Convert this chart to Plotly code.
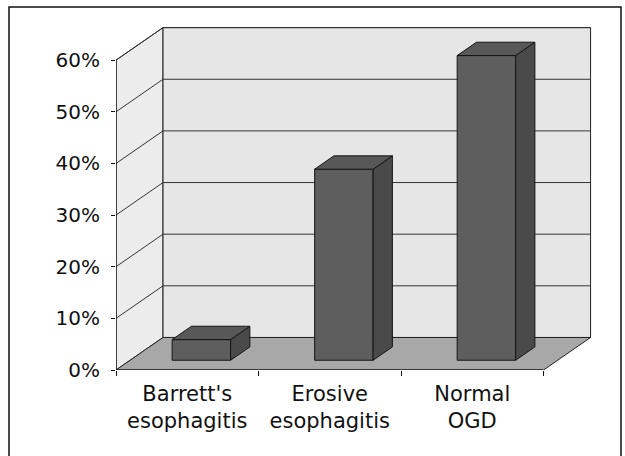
import plotly.graph_objects as go

# ---- data ----
categories = ["Barrett's<br>esophagitis", "Erosive<br>esophagitis", "Normal<br>OGD"]
values = [4, 37, 59]                     # percent
y_ticks = [0, 10, 20, 30, 40, 50, 60]
y_tick_labels = ["0%", "10%", "20%", "30%", "40%", "50%", "60%"]

# ---- 3D projection settings (in axis units) ----
DX = 0.33      # depth offset along x (category units)
DY = 6.3       # depth offset along y (percent units)
F0, F1 = 0.30, 0.71   # bar depth placement (fraction of depth)
HW = 0.205     # half bar width
YMAX = max(y_ticks)
XL, XR = -0.5, len(categories) - 0.5

WALL = "#e6e6e6"
SIDE_WALL = "#ececec"
FLOOR = "#a8a8a8"
EDGE = "#222222"
FRONT = "#5e5e5e"
TOP = "#585858"
SIDE = "#4a4a4a"

fig = go.Figure()
shapes = []

def path(pts):
    return "M " + " L ".join(f"{x},{y}" for x, y in pts) + " Z"

# left side wall
shapes.append(dict(type="path", xref="x", yref="y", layer="below",
                   path=path([(XL, 0), (XL, YMAX), (XL + DX, YMAX + DY), (XL + DX, DY)]),
                   fillcolor=SIDE_WALL, line=dict(color=EDGE, width=1)))
# back wall
shapes.append(dict(type="path", xref="x", yref="y", layer="below",
                   path=path([(XL + DX, DY), (XL + DX, YMAX + DY), (XR + DX, YMAX + DY), (XR + DX, DY)]),
                   fillcolor=WALL, line=dict(color=EDGE, width=1)))
# floor
shapes.append(dict(type="path", xref="x", yref="y", layer="below",
                   path=path([(XL, 0), (XR, 0), (XR + DX, DY), (XL + DX, DY)]),
                   fillcolor=FLOOR, line=dict(color=EDGE, width=1)))
# gridlines
for v in y_ticks[1:]:
    shapes.append(dict(type="line", xref="x", yref="y", layer="below",
                       x0=XL, y0=v, x1=XL + DX, y1=v + DY, line=dict(color="#333333", width=1)))
    shapes.append(dict(type="line", xref="x", yref="y", layer="below",
                       x0=XL + DX, y0=v + DY, x1=XR + DX, y1=v + DY, line=dict(color="#333333", width=1)))
# front axes lines
shapes.append(dict(type="line", xref="x", yref="y", x0=XL, y0=0, x1=XL, y1=YMAX,
                   line=dict(color="#111111", width=1.2)))
shapes.append(dict(type="line", xref="x", yref="y", x0=XL, y0=0, x1=XR, y1=0,
                   line=dict(color="#111111", width=1.2)))

# chart border (decoration)
l, r, t, b = 116, 33, 24, 86
W, H = 625 - l - r, 456 - t - b
shapes.append(dict(type="rect", xref="paper", yref="paper",
                   x0=(9 - l) / W, x1=(621 - l) / W, y0=-(480 - (456 - b)) / H, y1=((456 - b) - 7) / H,
                   line=dict(color="#111111", width=1.5), fillcolor="rgba(0,0,0,0)"))

# bars: front faces
xs = [i + F0 * DX for i in range(len(values))]
fig.add_trace(go.Bar(x=xs, y=values, base=[F0 * DY] * len(values), width=2 * HW,
                     marker=dict(color=FRONT, line=dict(color="#151515", width=1)),
                     hoverinfo="skip", showlegend=False))

# bars: top and side faces
tx, ty, sx, sy = [], [], [], []
for i, v in enumerate(values):
    x0 = i - HW + F0 * DX
    x1 = i + HW + F0 * DX
    y0 = F0 * DY
    dxd = (F1 - F0) * DX
    dyd = (F1 - F0) * DY
    tx += [x0, x1, x1 + dxd, x0 + dxd, x0, None]
    ty += [v + y0, v + y0, v + y0 + dyd, v + y0 + dyd, v + y0, None]
    sx += [x1, x1 + dxd, x1 + dxd, x1, x1, None]
    sy += [y0, y0 + dyd, v + y0 + dyd, v + y0, y0, None]
fig.add_trace(go.Scatter(x=sx, y=sy, mode="lines", fill="toself", fillcolor=SIDE,
                         line=dict(color="#151515", width=1), hoverinfo="skip", showlegend=False))
fig.add_trace(go.Scatter(x=tx, y=ty, mode="lines", fill="toself", fillcolor=TOP,
                         line=dict(color="#151515", width=1), hoverinfo="skip", showlegend=False))

# invisible trace for category label axis
fig.add_trace(go.Scatter(x=list(range(len(categories))), y=[0] * len(categories), xaxis="x2",
                         mode="markers", marker=dict(opacity=0), hoverinfo="skip", showlegend=False))

xr = [XL, XR + DX + 0.01]
font = dict(family="DejaVu Sans, Arial, sans-serif", size=20, color="#111111")
cat_font = dict(family="DejaVu Sans, Arial, sans-serif", size=21, color="#111111")
fig.update_layout(
    width=625, height=456,
    margin=dict(l=l, r=r, t=t, b=b),
    paper_bgcolor="white", plot_bgcolor="white",
    shapes=shapes,
    xaxis=dict(range=xr, tickvals=[XL + k for k in range(len(categories) + 1)],
               ticks="outside", ticklen=5, tickcolor="#111111", showticklabels=False,
               showgrid=False, zeroline=False, showline=False, fixedrange=True),
    xaxis2=dict(range=xr, overlaying="x", anchor="y", side="bottom",
                tickvals=list(range(len(categories))), ticktext=categories,
                ticks="", tickfont=cat_font, ticklabelstandoff=9,
                showgrid=False, zeroline=False, showline=False),
    yaxis=dict(range=[0, 67], tickvals=y_ticks, ticktext=y_tick_labels,
               ticks="outside", ticklen=4, tickcolor="#111111", tickfont=font,
               ticklabelstandoff=7,
               showgrid=False, zeroline=False, showline=False),
)
fig.write_html("out.html", config={"displayModeBar": False},
               post_script="document.body.style.margin='0px';")
